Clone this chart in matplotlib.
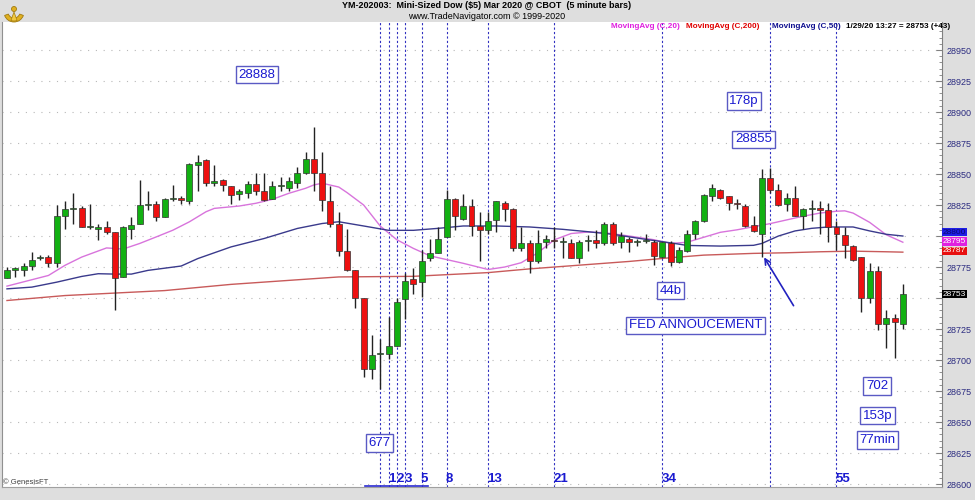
import matplotlib
matplotlib.use('Agg')
import matplotlib.pyplot as plt
from matplotlib.ticker import MultipleLocator, FuncFormatter
from matplotlib.patches import Wedge, Circle
import numpy as np

plt.rcParams['font.family'] = ['Liberation Sans', 'DejaVu Sans']

# 5 minute bars, YM Mar 2020
opens = [28766, 28773, 28773, 28776, 28782, 28783, 28778, 28816, 28822, 28823,
         28807, 28806, 28807, 28803, 28767, 28806, 28810, 28825, 28826, 28815,
         28830, 28831, 28828, 28857, 28861, 28843, 28845, 28840, 28834, 28835,
         28842, 28836, 28830, 28840, 28839, 28843, 28851, 28862, 28851, 28828,
         28810, 28788, 28773, 28750, 28693, 28705, 28705, 28711, 28749, 28765,
         28763, 28782, 28786, 28799, 28830, 28814, 28824, 28808, 28805, 28813,
         28827, 28822, 28790, 28794, 28780, 28795, 28797, 28795, 28794, 28782,
         28796, 28797, 28794, 28810, 28795, 28798, 28795, 28796, 28795, 28783,
         28794, 28779, 28788, 28802, 28812, 28832, 28837, 28832, 28827, 28824,
         28809, 28802, 28847, 28837, 28826, 28831, 28816, 28822, 28823, 28821,
         28807, 28801, 28792, 28783, 28750, 28772, 28729, 28734, 28729]
highs = [28775, 28775, 28778, 28787, 28785, 28785, 28825, 28828, 28835, 28824,
         28826, 28810, 28812, 28803, 28808, 28815, 28845, 28836, 28828, 28831,
         28841, 28832, 28859, 28865, 28862, 28857, 28846, 28840, 28838, 28844,
         28851, 28851, 28844, 28848, 28848, 28856, 28868, 28888, 28868, 28840,
         28819, 28806, 28773, 28750, 28720, 28717, 28735, 28750, 28770, 28774,
         28789, 28798, 28807, 28837, 28831, 28834, 28830, 28819, 28819, 28828,
         28828, 28823, 28807, 28797, 28805, 28801, 28807, 28799, 28798, 28797,
         28801, 28805, 28811, 28811, 28803, 28799, 28798, 28802, 28797, 28795,
         28796, 28791, 28805, 28813, 28834, 28842, 28838, 28832, 28830, 28826,
         28816, 28854, 28855, 28842, 28835, 28840, 28823, 28829, 28828, 28827,
         28812, 28807, 28793, 28783, 28778, 28776, 28740, 28737, 28761]
lows = [28766, 28767, 28768, 28773, 28781, 28775, 28775, 28806, 28810, 28807,
        28806, 28797, 28802, 28740, 28767, 28798, 28810, 28821, 28812, 28815,
        28828, 28826, 28826, 28836, 28840, 28840, 28836, 28826, 28829, 28831,
        28833, 28828, 28830, 28836, 28836, 28839, 28850, 28836, 28820, 28807,
        28784, 28772, 28742, 28686, 28685, 28677, 28701, 28711, 28733, 28753,
        28751, 28780, 28786, 28799, 28805, 28813, 28800, 28780, 28802, 28803,
        28812, 28788, 28788, 28770, 28778, 28790, 28790, 28782, 28782, 28778,
        28788, 28790, 28793, 28793, 28790, 28787, 28792, 28794, 28777, 28782,
        28776, 28778, 28787, 28798, 28811, 28828, 28830, 28821, 28822, 28807,
        28803, 28783, 28835, 28824, 28820, 28816, 28806, 28812, 28802, 28795,
        28789, 28782, 28780, 28739, 28746, 28724, 28710, 28702, 28725]
closes = [28773, 28774, 28776, 28781, 28783, 28778, 28816, 28822, 28823, 28807,
          28807, 28807, 28803, 28766, 28807, 28809, 28825, 28826, 28815, 28830,
          28831, 28829, 28858, 28860, 28843, 28844, 28841, 28833, 28836, 28842,
          28836, 28829, 28840, 28841, 28844, 28851, 28862, 28851, 28829, 28810,
          28788, 28773, 28750, 28693, 28704, 28706, 28711, 28747, 28764, 28761,
          28780, 28786, 28798, 28830, 28816, 28824, 28808, 28805, 28812, 28828,
          28822, 28790, 28794, 28780, 28794, 28798, 28796, 28796, 28782, 28795,
          28797, 28794, 28810, 28794, 28800, 28795, 28796, 28797, 28784, 28795,
          28779, 28789, 28802, 28812, 28833, 28839, 28831, 28827, 28826, 28808,
          28804, 28847, 28837, 28825, 28831, 28816, 28822, 28823, 28821, 28807,
          28802, 28793, 28781, 28750, 28772, 28729, 28734, 28731, 28753]

# moving averages (bar index, value)
ma20_x = [0, 5, 7, 9, 12, 14, 16, 18, 20, 22, 24, 25, 28, 30, 32, 34, 36, 37, 38, 40,
          41, 43, 45, 47, 49, 51, 53, 55, 58, 60, 62, 64, 66, 68, 70, 72, 75, 78, 80,
          82, 84, 86, 88, 90, 92, 94, 96, 98, 100, 101, 102, 104, 106, 108]
ma20_y = [28759.6, 28768.2, 28776.4, 28783, 28790.4, 28789.5, 28794, 28799.3, 28804.7,
          28811.5, 28819.6, 28822.3, 28824.2, 28826.4, 28829.6, 28834.5, 28838.5,
          28841.2, 28842.6, 28839.5, 28835, 28825, 28808, 28797, 28790, 28784, 28781,
          28778, 28773, 28775, 28778.5, 28786.5, 28797, 28802, 28803.2, 28802.7, 28800,
          28797, 28794, 28795, 28799, 28803, 28805, 28807.5, 28810, 28813, 28816,
          28818.5, 28820, 28820.3, 28818.5, 28811, 28801, 28795]
ma50_x = [0, 3, 6, 9, 11, 13, 15, 17, 21, 23, 27, 31, 35, 38, 40, 43, 46, 49, 52, 55,
          59, 63, 67, 70, 73, 77, 80, 82, 86, 90, 91, 93, 95, 97, 99, 102, 104, 106, 108]
ma50_y = [28757.4, 28758.8, 28762.8, 28767.4, 28769.6, 28769.3, 28769.3, 28772.3,
          28775.8, 28781.8, 28791.2, 28798, 28806.1, 28810.1, 28811.5, 28808.1, 28804.6,
          28804.6, 28806.2, 28808.1, 28808.1, 28807.3, 28805.4, 28803.5, 28801.4,
          28797.3, 28794.5, 28792.4, 28791.9, 28792.5, 28794, 28800, 28804.1, 28806.2,
          28807.3, 28807.3, 28804.1, 28801.4, 28800]
ma200_x = [0, 7, 13, 19, 27, 35, 40, 49, 58, 63, 69, 75, 80, 84, 90, 94, 98, 102, 106, 108]
ma200_y = [28748, 28752, 28754, 28756, 28761, 28764.7, 28767, 28767.5, 28770.5, 28773.5,
           28776.5, 28779.5, 28782.5, 28784.6, 28786, 28786.5, 28787.3, 28787.8, 28787.3,
           28787]

fib_start = 45
fib_steps = [1, 2, 3, 5, 8, 13, 21, 34, 55]
fed_bar = 92

fig = plt.figure(figsize=(9.75, 5.0), dpi=100, facecolor='#dedede')
ax = fig.add_axes([2 / 975, 13 / 500, 940 / 975, 465 / 500])
ax.set_facecolor('white')

n = len(opens)
x = np.arange(n)
o = np.array(opens)
c = np.array(closes)
up = c >= o

ax.vlines(x, lows, highs, color='#222222', lw=1.0, zorder=3)
bottom = np.minimum(o, c)
height = np.maximum(np.abs(c - o), 0.7)
ax.bar(x, height, bottom=bottom, width=0.72,
       color=np.where(up, '#12b012', '#ee1010'), edgecolor='#333333', lw=0.5, zorder=4)

ax.plot(ma20_x, ma20_y, color='#d874dc', lw=1.0, zorder=2)
ax.plot(ma50_x, ma50_y, color='#3a3a8c', lw=1.0, zorder=2)
ax.plot(ma200_x, ma200_y, color='#c85a5a', lw=1.0, zorder=2)

# fibonacci time lines
fib_bars = [fib_start] + [fib_start + s for s in fib_steps] + [fed_bar]
for b in fib_bars:
    ax.axvline(b, color='#3030c0', lw=0.8, ls=(0, (2, 2)), zorder=1)
for s in fib_steps:
    ax.text(fib_start + s - 0.1, 28599.5, str(s), color='#1a1ad0', fontsize=9.5,
            fontweight='bold', ha='left', va='bottom', zorder=6)
ax.plot([fib_start - 1.8, fib_start + 5.8], [28598.3, 28598.3], color='#2a2ad0', lw=1.2,
        clip_on=False, zorder=6)

ax.set_xlim(-0.6, 112.72)
ax.set_ylim(28597.6, 28972.6)

# tick labels hidden under the price tags
hidden = [28750, 28800]
ax.yaxis.tick_right()
ax.yaxis.set_major_locator(MultipleLocator(25))
ax.yaxis.set_minor_locator(MultipleLocator(5))
ax.yaxis.set_major_formatter(FuncFormatter(
    lambda v, p: '' if round(v) in hidden else '%d' % round(v)))
ax.tick_params(axis='y', which='major', direction='in', length=4, color='#808080',
               labelsize=6.5, labelcolor='#2b2b80', pad=3)
ax.tick_params(axis='y', which='minor', direction='in', length=2, color='#808080')
ax.set_xticks([])
ax.yaxis.grid(True, which='major', color='#b8b8b8', ls=(0, (1, 6)), lw=0.8)
ax.set_axisbelow(True)
ax.spines['top'].set_visible(False)
ax.spines['right'].set_color('#808080')
ax.spines['left'].set_color('#909090')
ax.spines['bottom'].set_color('#a0a0a0')

# annotations
box = dict(boxstyle='square,pad=0.2', fc='white', ec='#5a5ac4', lw=1.0)
notes = [('28888', 30.1, 28930), ('178p', 88.85, 28909), ('28855', 90.0, 28878),
         ('44b', 80.0, 28756), ('FED ANNOUCEMENT', 83.0, 28728), ('677', 44.9, 28633),
         ('702', 104.9, 28679), ('153p', 104.96, 28655), ('77min', 104.96, 28635.5)]
for t, bx, by in notes:
    ax.text(bx, by, t, color='#1a1ad0', fontsize=9.5, ha='center', va='center',
            bbox=box, zorder=7)
ax.annotate('', xy=(91.1, 28784.7), xytext=(95.0, 28741.9),
            arrowprops=dict(arrowstyle='->', color='#2222c0', lw=1.2), zorder=7)

# price tags on the right axis
tags = [('28800', 28803, '#1e1ee6', '#0a0a70'), ('28795', 28795.5, '#e020e0', 'white'),
        ('28787', 28788, '#e81010', 'white'), ('28753', 28753, 'black', 'white')]
for t, ty, bg, fg in tags:
    ax.text(1.001, ty, t, transform=ax.get_yaxis_transform(), color=fg, fontsize=6,
            ha='left', va='center', clip_on=False, zorder=8,
            bbox=dict(boxstyle='square,pad=0.08', fc=bg, ec='none'))

# header
fig.text(487 / 975, 1 - 6 / 500, 'YM-202003:  Mini-Sized Dow (\\$5) Mar 2020 @ CBOT  (5 minute bars)',
         fontsize=6.5, fontweight='bold', ha='center', va='center')
fig.text(487 / 975, 1 - 16.5 / 500, 'www.TradeNavigator.com \u00a9 1999-2020',
         fontsize=6.5, ha='center', va='center')
legend_items = [(611, 'MovingAvg (C,20)', '#e020e0'), (686, 'MovingAvg (C,200)', '#e00000'),
                (772, 'MovingAvg (C,50)', '#101090'), (846, '1/29/20 13:27 = 28753 (+43)', 'black')]
for lx, t, col in legend_items:
    fig.text(lx / 975, 1 - 27 / 500, t, color=col, fontsize=5.9, fontweight='bold',
             ha='left', va='center')
fig.text(3 / 975, 1 - 483 / 500, '\u00a9 GenesisFT', color='#404040', fontsize=5.5,
         ha='left', va='center')

# small gold logo in the corner
fig.add_artist(Wedge((14, 488), 10, 200, 340, width=4, transform=None,
                     fc='#e0b020', ec='#a07a10', lw=0.6))
fig.add_artist(Circle((14, 491), 2.5, transform=None, fc='#e0b020', ec='#a07a10', lw=0.6))
fig.add_artist(Wedge((14, 488), 9, 250, 290, transform=None, fc='#f0c840', ec='#a07a10', lw=0.5))

fig.savefig('out.png', dpi=100, facecolor=fig.get_facecolor())
